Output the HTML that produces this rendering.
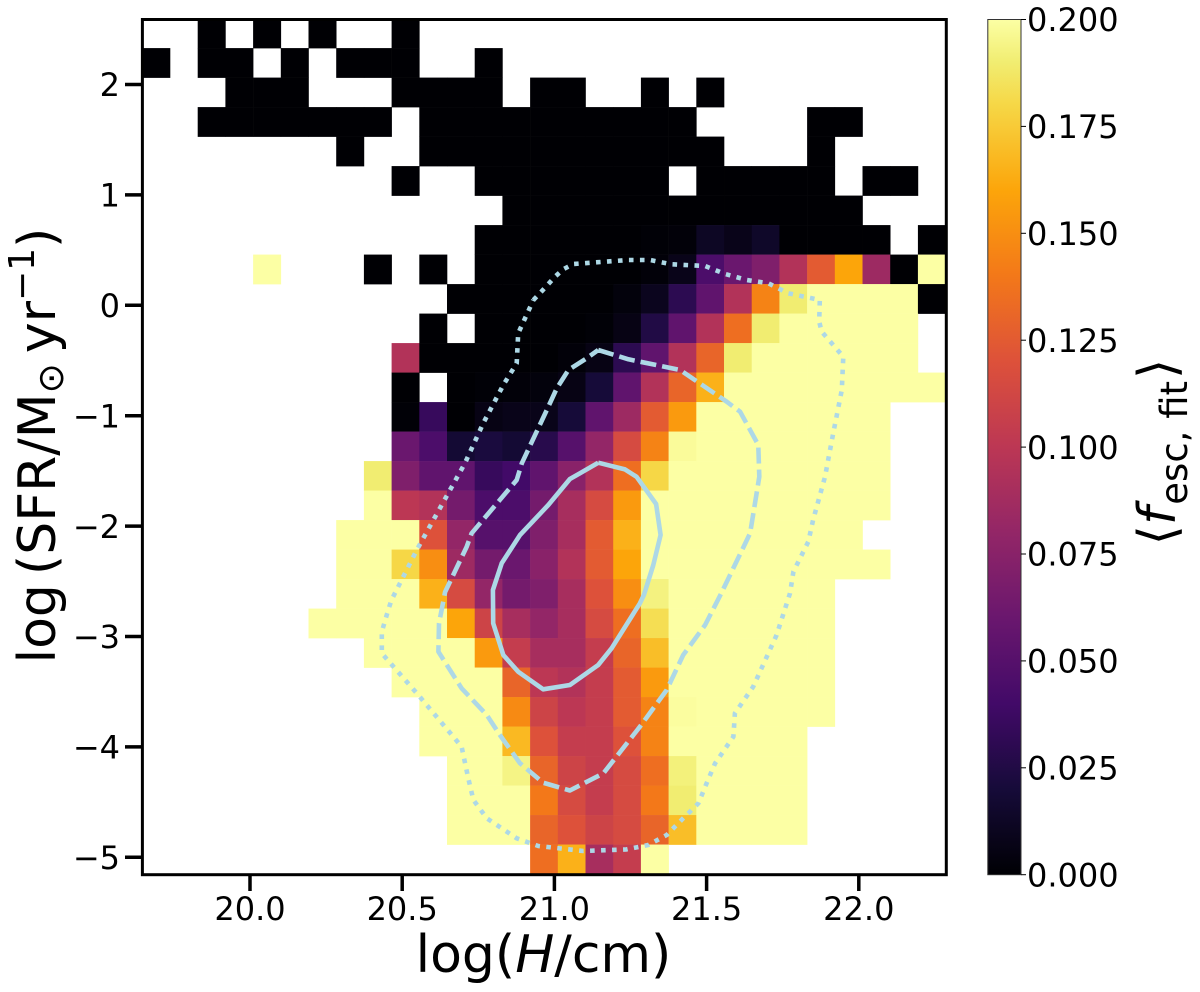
<!DOCTYPE html>
<html lang="en">
<head>
<meta charset="utf-8">
<title>Mean escape fraction heatmap</title>
<style>
html,body{margin:0;padding:0;background:#fff;width:1200px;height:992px;overflow:hidden}
svg{display:block}
text{font-family:"DejaVu Sans","Liberation Sans",sans-serif;fill:#000}
</style>
</head>
<body>
<svg id="chart" xmlns="http://www.w3.org/2000/svg" width="1200" height="992" viewBox="0 0 1200 992">
  <defs>
    <clipPath id="plot-clip"><rect x="142.4" y="19.5" width="803.9" height="855.2"></rect></clipPath>
    <linearGradient id="cbar-gradient" x1="0" y1="1" x2="0" y2="0"></linearGradient>
  </defs>
  <g id="cells" clip-path="url(#plot-clip)"></g>
  <g id="contours" clip-path="url(#plot-clip)"></g>
  <rect x="142.4" y="19.5" width="803.9" height="855.2" fill="none" stroke="#000" stroke-width="3"></rect>
  <g id="x-axis"></g>
  <g id="y-axis"></g>
  <rect x="987.8" y="19.5" width="33.2" height="855.2" fill="url(#cbar-gradient)" stroke="#333" stroke-width="1"></rect>
  <g id="cbar-axis"></g>
  <text x="543.5" y="972" text-anchor="middle" font-size="52">log(<tspan font-style="italic">H</tspan>/cm)</text>
  <text transform="translate(55 445.5) rotate(-90)" text-anchor="middle" font-size="52">log<tspan dx="9">(</tspan>SFR/M<tspan font-size="36" dy="8">⊙</tspan><tspan dy="-8" dx="10">yr</tspan><tspan font-size="36" dy="-21">−1</tspan><tspan dy="21">)</tspan></text>
  <text transform="translate(1175 452) rotate(-90)" text-anchor="middle" font-size="52">⟨<tspan font-style="italic">f</tspan><tspan font-size="37" dy="12" dx="2">esc, fit</tspan><tspan dy="-12" dx="2">⟩</tspan></text>
</svg>
<script>
const n = null;
const xTicks = [20.0, 20.5, 21.0, 21.5, 22.0];
const xTickLabels = ['20.0', '20.5', '21.0', '21.5', '22.0'];
const yTicks = [2, 1, 0, -1, -2, -3, -4, -5];
const yTickLabels = ['2', '1', '0', '−1', '−2', '−3', '−4', '−5'];
const cbarTicks = [0, 0.025, 0.05, 0.075, 0.1, 0.125, 0.15, 0.175, 0.2];
const cbarTickLabels = ['0.000', '0.025', '0.050', '0.075', '0.100', '0.125', '0.150', '0.175', '0.200'];
const infernoStops = ['#000004', '#160b39', '#420a68', '#6a176e', '#932667', '#bc3754', '#dd513a', '#f37819', '#fca50a', '#f6d746', '#f1ed71', '#fcffa4'];
const infernoPositions = [0, 0.1, 0.2, 0.3, 0.4, 0.5, 0.6, 0.7, 0.8, 0.9, 0.95, 1];
const xBinStart = 19.6462;
const xBinWidth = 0.091;
const yBinTop = 2.597;
const yBinHeight = 0.2672;
const Y = 0.2;
/* mean f_esc per bin, rows top to bottom, columns left to right */
const fescRows = [
[n,n,0,n,0,n,0,n,n,0,n,n,n,n,n,n,n,n,n,n,n,n,n,n,n,n,n,n,n],
[0,n,0,0,n,0,n,0,0,0,n,n,0,n,n,n,n,n,n,n,n,n,n,n,n,n,n,n,n],
[n,n,n,0,0,0,n,n,n,0,0,0,0,n,0,0,n,n,0,n,0,n,n,n,n,n,n,n,n],
[n,n,0,0,0,0,0,0,0,n,0,0,0,0,0,0,0,0,0,0,n,n,n,n,0,0,n,n,n],
[n,n,n,n,n,n,n,0,n,n,0,0,0,0,0,0,0,0,0,0,0,n,n,n,0,n,n,n,n],
[n,n,n,n,n,n,n,n,n,0,n,n,0,0,0,0,0,0,0,n,0,0,0,0,0,n,0,0,n],
[n,n,n,n,n,n,n,n,n,n,n,n,n,0,0,0,0,0,0,0,0,0,0,0,0,0,n,n,n],
[n,n,n,n,n,n,n,n,n,n,n,n,0,0,0,0,0,0,0.001,0.002,0.012,0.008,0.014,0,0,0,0,n,0],
[n,n,n,n,Y,n,n,n,0,n,0,n,0,0,0,0,0,0,0.002,0.008,0.045,0.06,0.07,0.095,0.125,0.16,0.085,0,Y],
[n,n,n,n,n,n,n,n,n,n,n,0,0,0,0,0,0,0.003,0.01,0.03,0.055,0.095,0.145,0.19,Y,Y,Y,Y,0],
[n,n,n,n,n,n,n,n,n,n,0,n,0,0,0,0,0.001,0.006,0.025,0.055,0.095,0.135,0.19,Y,Y,Y,Y,Y,n],
[n,n,n,n,n,n,n,n,n,0.095,0,0,0,0,0,0.002,0.006,0.03,0.055,0.095,0.13,0.19,Y,Y,Y,Y,Y,Y,n],
[n,n,n,n,n,n,n,n,n,0,n,0,0.001,0.002,0.003,0.006,0.02,0.055,0.095,0.13,0.165,Y,Y,Y,Y,Y,Y,Y,Y],
[n,n,n,n,n,n,n,n,n,0.001,0.035,0,0.006,0.008,0.008,0.02,0.055,0.085,0.125,0.155,Y,Y,Y,Y,Y,Y,Y,n,n],
[n,n,n,n,n,n,n,n,n,0.06,0.045,0.018,0.022,0.018,0.028,0.05,0.08,0.115,0.145,0.198,Y,Y,Y,Y,Y,Y,Y,n,n],
[n,n,n,n,n,n,n,n,0.19,0.07,0.055,0.055,0.035,0.04,0.055,0.075,0.095,0.135,0.18,Y,Y,Y,Y,Y,Y,Y,Y,n,n],
[n,n,n,n,n,n,n,n,Y,0.1,0.095,0.065,0.045,0.045,0.065,0.09,0.115,0.155,Y,Y,Y,Y,Y,Y,Y,Y,Y,n,n],
[n,n,n,n,n,n,n,Y,Y,Y,0.12,0.08,0.05,0.05,0.07,0.09,0.125,0.165,Y,Y,Y,Y,Y,Y,Y,Y,n,n,n],
[n,n,n,n,n,n,n,Y,Y,0.18,0.15,0.085,0.065,0.06,0.075,0.095,0.125,0.16,Y,Y,Y,Y,Y,Y,Y,Y,Y,n,n],
[n,n,n,n,n,n,n,Y,Y,Y,0.165,0.115,0.08,0.065,0.07,0.09,0.12,0.15,0.193,Y,Y,Y,Y,Y,Y,n,n,n,n],
[n,n,n,n,n,n,Y,Y,Y,Y,Y,0.16,0.11,0.09,0.08,0.09,0.115,0.135,0.183,Y,Y,Y,Y,Y,Y,n,n,n,n],
[n,n,n,n,n,n,n,n,Y,Y,Y,Y,0.155,0.105,0.09,0.09,0.105,0.13,0.17,Y,Y,Y,Y,Y,Y,n,n,n,n],
[n,n,n,n,n,n,n,n,n,Y,Y,Y,Y,0.13,0.1,0.095,0.105,0.125,0.155,Y,Y,Y,Y,Y,Y,n,n,n,n],
[n,n,n,n,n,n,n,n,n,n,Y,Y,Y,0.148,0.11,0.1,0.105,0.125,0.145,0.199,Y,Y,Y,Y,Y,n,n,n,n],
[n,n,n,n,n,n,n,n,n,n,Y,Y,Y,0.168,0.12,0.105,0.105,0.12,0.145,Y,Y,Y,Y,Y,n,n,n,n,n],
[n,n,n,n,n,n,n,n,n,n,n,Y,Y,0.194,0.13,0.11,0.105,0.115,0.135,0.192,Y,Y,Y,Y,n,n,n,n,n],
[n,n,n,n,n,n,n,n,n,n,n,Y,Y,Y,0.14,0.115,0.105,0.115,0.14,0.19,Y,Y,Y,Y,n,n,n,n,n],
[n,n,n,n,n,n,n,n,n,n,n,Y,Y,Y,0.13,0.12,0.11,0.115,0.13,0.17,Y,Y,Y,Y,n,n,n,n,n],
[n,n,n,n,n,n,n,n,n,n,n,n,n,n,0.135,0.165,0.09,0.105,Y,n,n,n,n,n,n,n,n,n,n]
];
const solidLogH = [21.144,21.232,21.270,21.334,21.349,21.325,21.294,21.281,21.188,21.144,21.051,20.963,20.881,20.832,20.799,20.798,20.827,20.887,20.980,21.051,21.084,21.144];
const solidLogSfr = [-1.426,-1.486,-1.553,-1.800,-2.081,-2.352,-2.624,-2.699,-3.107,-3.258,-3.439,-3.478,-3.319,-3.168,-2.880,-2.579,-2.337,-2.081,-1.809,-1.573,-1.522,-1.426];
const dashedLogH = [21.144,21.243,21.413,21.566,21.610,21.670,21.673,21.643,21.547,21.495,21.423,21.369,21.281,21.161,21.051,20.963,20.887,20.821,20.778,20.695,20.619,20.621,20.641,20.712,20.728,20.876,20.893,20.975,21.008,21.046,21.106,21.144];
const dashedLogSfr = [-0.405,-0.489,-0.586,-0.873,-0.964,-1.265,-1.553,-2.065,-2.615,-2.896,-3.168,-3.485,-3.817,-4.239,-4.395,-4.324,-4.149,-3.892,-3.711,-3.469,-3.138,-2.880,-2.597,-2.187,-2.065,-1.582,-1.431,-0.948,-0.752,-0.586,-0.480,-0.405];
const dottedLogH = [20.931,20.953,21.002,21.029,21.062,21.243,21.314,21.385,21.495,21.560,21.632,21.703,21.768,21.872,21.870,21.878,21.949,21.944,21.916,21.889,21.850,21.834,21.785,21.774,21.730,21.653,21.593,21.588,21.528,21.500,21.473,21.423,21.369,21.308,21.237,21.095,20.947,20.876,20.778,20.734,20.717,20.695,20.668,20.553,20.433,20.433,20.454,20.465,20.548,20.651,20.706,20.766,20.832,20.876,20.881,20.931];
const dottedLogSfr = [0.048,0.111,0.259,0.326,0.374,0.410,0.410,0.371,0.356,0.284,0.229,0.199,0.109,0.048,-0.149,-0.239,-0.466,-0.767,-1.159,-1.553,-1.945,-2.141,-2.413,-2.609,-2.986,-3.455,-3.696,-3.908,-4.149,-4.330,-4.511,-4.647,-4.798,-4.889,-4.928,-4.943,-4.898,-4.828,-4.647,-4.481,-4.285,-3.998,-3.908,-3.530,-3.152,-2.957,-2.760,-2.669,-2.216,-1.703,-1.431,-1.069,-0.722,-0.525,-0.254,0.048];

const NS = 'http://www.w3.org/2000/svg';
const cbarMax = 0.2;
function xScale(v) { return 250 + (v - 20) * 304.4; }
function yScale(v) { return 305.3 - v * 110.4; }
function cbarScale(v) { return 874.7 - (v / cbarMax) * 855.2; }
function hexToRgb(h) { return [1, 3, 5].map(function (i) { return parseInt(h.substr(i, 2), 16); }); }
function colorOf(v) {
  const t = Math.max(0, Math.min(1, v / cbarMax));
  let i = 0;
  while (i < infernoPositions.length - 2 && t > infernoPositions[i + 1]) i++;
  const a = hexToRgb(infernoStops[i]);
  const b = hexToRgb(infernoStops[i + 1]);
  const f = (t - infernoPositions[i]) / (infernoPositions[i + 1] - infernoPositions[i]);
  return 'rgb(' + a.map(function (c, k) { return Math.round(c + (b[k] - c) * f); }).join(',') + ')';
}
function make(parent, tag) {
  const el = document.createElementNS(NS, tag);
  parent.appendChild(el);
  return el;
}

const cellsGroup = document.getElementById('cells');
fescRows.forEach(function (row, r) {
  row.forEach(function (value, c) {
    if (value === null) return;
    const x0 = xScale(xBinStart + c * xBinWidth);
    const x1 = xScale(xBinStart + (c + 1) * xBinWidth);
    const y0 = yScale(yBinTop - r * yBinHeight);
    const y1 = yScale(yBinTop - (r + 1) * yBinHeight);
    const cell = make(cellsGroup, 'rect');
    cell.setAttribute('x', x0);
    cell.setAttribute('y', y0);
    cell.setAttribute('width', x1 - x0 + 0.3);
    cell.setAttribute('height', y1 - y0 + 0.3);
    cell.setAttribute('fill', colorOf(value));
    
    
  });
});

const contourGroup = document.getElementById('contours');
function drawContour(xs, ys, dash, name) {
  const p = make(contourGroup, 'path');
  const d = xs.map(function (x, i) { return (i ? 'L' : 'M') + xScale(x).toFixed(1) + ' ' + yScale(ys[i]).toFixed(1); }).join('');
  p.setAttribute('d', d);
  p.setAttribute('fill', 'none');
  p.setAttribute('stroke', '#add8e6');
  p.setAttribute('stroke-width', '4.6');
  p.setAttribute('stroke-linejoin', 'round');
  if (dash) p.setAttribute('stroke-dasharray', dash);
  
  
}
drawContour(dottedLogH, dottedLogSfr, '4.6 6.4', 'contour-outer-dotted');
drawContour(dashedLogH, dashedLogSfr, '16 6', 'contour-middle-dashed');
drawContour(solidLogH, solidLogSfr, null, 'contour-inner-solid');

const xAxis = document.getElementById('x-axis');
xTicks.forEach(function (v, i) {
  const t = make(xAxis, 'line');
  t.setAttribute('x1', xScale(v));
  t.setAttribute('x2', xScale(v));
  t.setAttribute('y1', 875);
  t.setAttribute('y2', 891);
  t.setAttribute('stroke', '#000');
  t.setAttribute('stroke-width', '3.5');
  
  
  const l = make(xAxis, 'text');
  l.setAttribute('x', xScale(v));
  l.setAttribute('y', 920);
  l.setAttribute('text-anchor', 'middle');
  l.setAttribute('font-size', '32');
  l.textContent = xTickLabels[i];
  
  
});

const yAxis = document.getElementById('y-axis');
yTicks.forEach(function (v, i) {
  const t = make(yAxis, 'line');
  t.setAttribute('x1', 125);
  t.setAttribute('x2', 142);
  t.setAttribute('y1', yScale(v));
  t.setAttribute('y2', yScale(v));
  t.setAttribute('stroke', '#000');
  t.setAttribute('stroke-width', '3.5');
  
  
  const l = make(yAxis, 'text');
  l.setAttribute('x', 120);
  l.setAttribute('y', yScale(v) + 11.7);
  l.setAttribute('text-anchor', 'end');
  l.setAttribute('font-size', '32');
  l.textContent = yTickLabels[i];
  
  
});

const gradient = document.getElementById('cbar-gradient');
infernoStops.forEach(function (color, i) {
  const s = make(gradient, 'stop');
  s.setAttribute('offset', infernoPositions[i]);
  s.setAttribute('stop-color', color);
});

const cbarAxis = document.getElementById('cbar-axis');
cbarTicks.forEach(function (v, i) {
  const t = make(cbarAxis, 'line');
  t.setAttribute('x1', 1021);
  t.setAttribute('x2', 1026);
  t.setAttribute('y1', cbarScale(v));
  t.setAttribute('y2', cbarScale(v));
  t.setAttribute('stroke', '#000');
  t.setAttribute('stroke-width', '1');
  
  
  const l = make(cbarAxis, 'text');
  l.setAttribute('x', 1027);
  l.setAttribute('y', cbarScale(v) + 11.7);
  l.setAttribute('font-size', '32');
  l.textContent = cbarTickLabels[i];
  
  
});
</script>
</body>
</html>
